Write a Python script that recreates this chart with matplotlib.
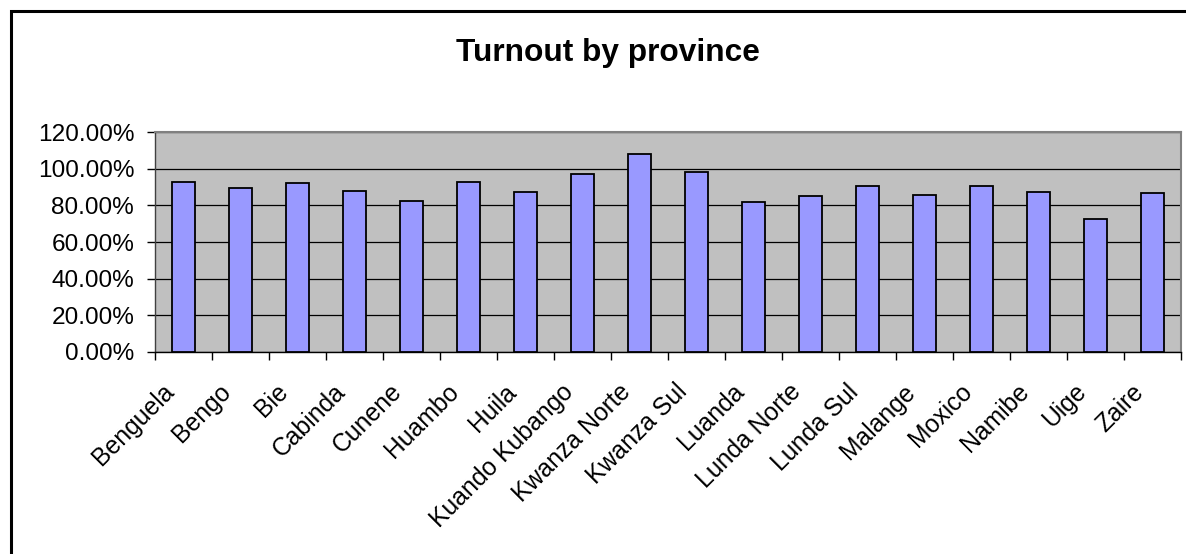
import matplotlib
matplotlib.use("Agg")
import matplotlib.pyplot as plt
from matplotlib.patches import Rectangle
from matplotlib.ticker import FixedLocator, FuncFormatter
from matplotlib.transforms import ScaledTranslation

provinces = ["Benguela", "Bengo", "Bie", "Cabinda", "Cunene", "Huambo", "Huila",
             "Kuando Kubango", "Kwanza Norte", "Kwanza Sul", "Luanda", "Lunda Norte",
             "Lunda Sul", "Malange", "Moxico", "Namibe", "Uige", "Zaire"]
turnout = [92.9, 89.6, 92.0, 87.6, 82.2, 92.9, 87.5, 97.3, 108.2, 98.4,
           82.0, 85.3, 90.7, 85.5, 90.7, 87.5, 72.4, 86.5]
y_ticks = [0, 20, 40, 60, 80, 100, 120]

plt.rcParams["font.family"] = ["Liberation Sans", "DejaVu Sans"]

W, H, DPI = 1186, 554, 100
fig = plt.figure(figsize=(W / DPI, H / DPI), dpi=DPI)
fig.patch.set_facecolor("white")

# chart-area frame
fig.patches.append(Rectangle((11 / W, -0.1), 1.2, 1 - 11 / H + 0.1,
                             transform=fig.transFigure, fill=False,
                             edgecolor="black", linewidth=2.2, zorder=0))

ax = fig.add_axes([155 / W, 1 - 352 / H, (1181 - 155) / W, 220 / H])
ax.set_facecolor("#C0C0C0")

x = list(range(len(provinces)))
ax.bar(x, turnout, width=0.42, color="#9999FF", edgecolor="black",
       linewidth=1.3, zorder=3)

ax.set_xlim(-0.5, len(provinces) - 0.5)
ax.set_ylim(0, 120)
ax.yaxis.set_major_locator(FixedLocator(y_ticks))
ax.yaxis.set_major_formatter(FuncFormatter(lambda v, p: f"{v:.2f}%"))
ax.grid(axis="y", color="black", linewidth=0.9, zorder=1)
ax.set_axisbelow(True)

ax.set_xticks(x)
ax.set_xticklabels(provinces, rotation=45, ha="right", va="center",
                   rotation_mode="anchor")
ax.set_xticks([i - 0.5 for i in range(len(provinces) + 1)], minor=True)
ax.tick_params(axis="x", which="major", length=0, pad=26, labelsize=17.8)
ax.tick_params(axis="x", which="minor", length=6, width=1, color="black",
               direction="out")
ax.tick_params(axis="y", length=6, width=1, labelsize=17.6, pad=9,
               color="black")

# nudge the slanted category labels a little to the left
shift = ScaledTranslation(-13 / DPI, 0, fig.dpi_scale_trans)
for lbl in ax.get_xticklabels():
    lbl.set_transform(lbl.get_transform() + shift)

for side in ("top", "right"):
    ax.spines[side].set_color("#808080")
    ax.spines[side].set_linewidth(1.5)
ax.spines["left"].set_color("#404040")
ax.spines["bottom"].set_color("black")
ax.spines["left"].set_linewidth(1.0)
ax.spines["bottom"].set_linewidth(1.0)

fig.text(608 / W, 1 - 53 / H, "Turnout by province", ha="center", va="center",
         fontsize=22.8, fontweight="bold")

fig.savefig("out.png", dpi=DPI, facecolor="white")
